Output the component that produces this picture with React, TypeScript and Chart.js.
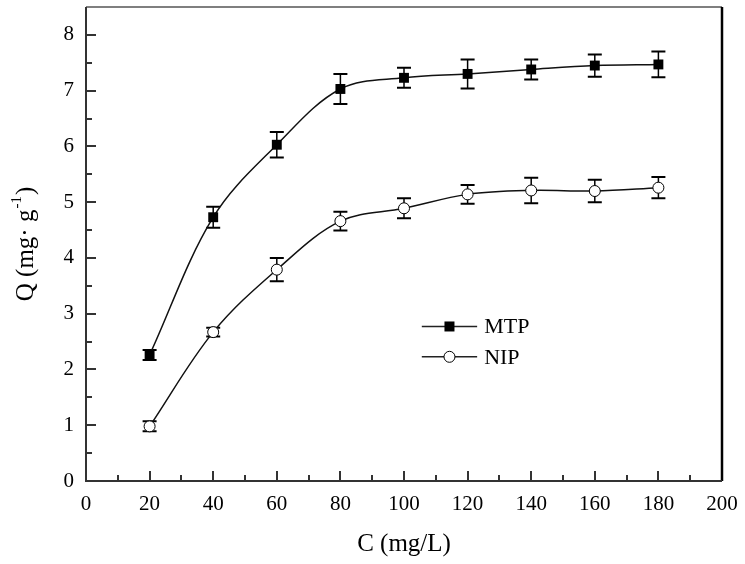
import React, { useEffect, useRef } from "react";
import { Chart, registerables } from "chart.js";

Chart.register(...registerables);

const concentrations = [20, 40, 60, 80, 100, 120, 140, 160, 180];
const mtpValues = [2.26, 4.73, 6.03, 7.03, 7.23, 7.3, 7.38, 7.45, 7.47];
const mtpErrors = [0.09, 0.19, 0.23, 0.27, 0.18, 0.26, 0.18, 0.2, 0.23];
const nipValues = [0.98, 2.67, 3.79, 4.66, 4.89, 5.14, 5.21, 5.2, 5.26];
const nipErrors = [0.09, 0.08, 0.21, 0.17, 0.18, 0.17, 0.23, 0.2, 0.19];
const seriesNames = ["MTP", "NIP"];
const xTitle = "C (mg/L)";
const yTitleMain = "Q (mg\u00b7 g";
const yTitleSup = "-1";
const yTitleEnd = ")";

const FONT = "'Liberation Serif', 'Times New Roman', serif";

function drawMarker(ctx: CanvasRenderingContext2D, kind: string, x: number, y: number) {
  ctx.save();
  if (kind === "rect") {
    ctx.fillStyle = "#000";
    ctx.fillRect(x - 5, y - 5, 10, 10);
  } else {
    ctx.beginPath();
    ctx.arc(x, y, 5.5, 0, Math.PI * 2);
    ctx.fillStyle = "#fff";
    ctx.fill();
    ctx.lineWidth = 1;
    ctx.strokeStyle = "#000";
    ctx.stroke();
  }
  ctx.restore();
}

const errorBarPlugin = {
  id: "errorBars",
  beforeDatasetsDraw(chart: any) {
    const ctx = chart.ctx;
    const xs = chart.scales.x;
    const ys = chart.scales.y;
    const errs = [mtpErrors, nipErrors];
    const vals = [mtpValues, nipValues];
    ctx.save();
    ctx.strokeStyle = "#000";
    for (let d = 0; d < 2; d++) {
      for (let i = 0; i < concentrations.length; i++) {
        const px = xs.getPixelForValue(concentrations[i]);
        const top = ys.getPixelForValue(vals[d][i] + errs[d][i]);
        const bot = ys.getPixelForValue(vals[d][i] - errs[d][i]);
        ctx.lineWidth = 1.5;
        ctx.beginPath();
        ctx.moveTo(px, top);
        ctx.lineTo(px, bot);
        ctx.stroke();
        ctx.lineWidth = 2;
        ctx.beginPath();
        ctx.moveTo(px - 7, top);
        ctx.lineTo(px + 7, top);
        ctx.moveTo(px - 7, bot);
        ctx.lineTo(px + 7, bot);
        ctx.stroke();
      }
    }
    ctx.restore();
  },
};

const framePlugin = {
  id: "frame",
  afterDraw(chart: any) {
    const ctx = chart.ctx;
    const { left, right, top, bottom } = chart.chartArea;
    const xs = chart.scales.x;
    const ys = chart.scales.y;
    ctx.save();
    ctx.strokeStyle = "#555";
    ctx.lineWidth = 1.5;
    ctx.beginPath();
    ctx.moveTo(left, top);
    ctx.lineTo(right, top);
    ctx.stroke();
    ctx.strokeStyle = "#000";
    ctx.lineWidth = 2.5;
    ctx.beginPath();
    ctx.moveTo(right, top);
    ctx.lineTo(right, bottom);
    ctx.stroke();
    ctx.strokeStyle = "#333";
    ctx.lineWidth = 2;
    ctx.beginPath();
    ctx.moveTo(left, top);
    ctx.lineTo(left, bottom);
    ctx.lineTo(right, bottom);
    ctx.stroke();
    ctx.lineWidth = 2;
    ctx.beginPath();
    for (let v = 10; v < 200; v += 10) {
      const px = Math.round(xs.getPixelForValue(v));
      const len = v % 20 === 0 ? 10 : 6;
      ctx.moveTo(px, bottom);
      ctx.lineTo(px, bottom - len);
    }
    for (let v = 0.5; v <= 8; v += 0.5) {
      const py = Math.round(ys.getPixelForValue(v));
      const len = v % 1 === 0 ? 10 : 6;
      ctx.moveTo(left, py);
      ctx.lineTo(left + len, py);
    }
    ctx.stroke();

    const mid = (top + bottom) / 2;
    ctx.translate(25, mid);
    ctx.rotate(-Math.PI / 2);
    ctx.fillStyle = "#000";
    ctx.textBaseline = "alphabetic";
    ctx.font = `25px ${FONT}`;
    const w1 = ctx.measureText(yTitleMain).width;
    const w3 = ctx.measureText(yTitleEnd).width;
    ctx.font = `15px ${FONT}`;
    const w2 = ctx.measureText(yTitleSup).width;
    const total = w1 + w2 + w3 + 2;
    let x0 = -total / 2;
    const base = 8;
    ctx.font = `25px ${FONT}`;
    ctx.fillText(yTitleMain, x0, base);
    x0 += w1 + 1;
    ctx.font = `15px ${FONT}`;
    ctx.fillText(yTitleSup, x0, base - 12);
    x0 += w2 + 1;
    ctx.font = `25px ${FONT}`;
    ctx.fillText(yTitleEnd, x0, base);
    ctx.restore();

    const w = right - left;
    const h = bottom - top;
    const lx1 = left + 0.528 * w;
    const lx2 = left + 0.615 * w;
    const kinds = ["rect", "circle"];
    const rows = [0.674, 0.738];
    ctx.save();
    for (let i = 0; i < 2; i++) {
      const ly = top + rows[i] * h;
      ctx.strokeStyle = "#222";
      ctx.lineWidth = 1.5;
      ctx.beginPath();
      ctx.moveTo(lx1, ly);
      ctx.lineTo(lx2, ly);
      ctx.stroke();
      drawMarker(ctx, kinds[i], (lx1 + lx2) / 2, ly);
      ctx.fillStyle = "#000";
      ctx.font = `22px ${FONT}`;
      ctx.textBaseline = "middle";
      ctx.fillText(seriesNames[i], lx2 + 7, ly + 1);
    }
    ctx.restore();
  },
};

export default function App() {
  const ref = useRef<HTMLCanvasElement | null>(null);
  useEffect(() => {
    document.body.style.margin = "0";
    const canvas = ref.current;
    if (!canvas) return;
    const chart = new Chart(canvas, {
      type: "line",
      data: {
        datasets: [
          {
            label: seriesNames[0],
            data: concentrations.map((c, i) => ({ x: c, y: mtpValues[i] })),
            borderColor: "#111",
            borderWidth: 1.5,
            pointStyle: "rect",
            pointRadius: 7,
            pointBackgroundColor: "#000",
            pointBorderColor: "#000",
            pointBorderWidth: 0,
            tension: 0.35,
            fill: false,
          },
          {
            label: seriesNames[1],
            data: concentrations.map((c, i) => ({ x: c, y: nipValues[i] })),
            borderColor: "#111",
            borderWidth: 1.5,
            pointStyle: "circle",
            pointRadius: 5.5,
            pointBackgroundColor: "#fff",
            pointBorderColor: "#000",
            pointBorderWidth: 1,
            tension: 0.35,
            fill: false,
          },
        ],
      },
      options: {
        animation: false,
        responsive: false,
        devicePixelRatio: 1,
        layout: { padding: { top: 6, right: 23, left: 0, bottom: 0 } },
        plugins: {
          legend: { display: false },
          tooltip: { enabled: false },
        },
        scales: {
          x: {
            type: "linear",
            min: 0,
            max: 200,
            grid: { display: false, drawTicks: false },
            border: { display: false },
            ticks: {
              stepSize: 20,
              color: "#000",
              font: { family: FONT, size: 21 },
              padding: 11,
              maxRotation: 0,
            },
            title: {
              display: true,
              text: xTitle,
              color: "#000",
              font: { family: FONT, size: 25 },
              padding: { top: 0, bottom: 5 },
            },
            afterFit(scale: any) {
              scale.height = 83;
              scale.paddingLeft = 0;
              scale.paddingRight = 0;
            },
          },
          y: {
            type: "linear",
            min: 0,
            max: 8.5,
            grid: { display: false, drawTicks: false },
            border: { display: false },
            ticks: {
              stepSize: 1,
              includeBounds: false,
              color: "#000",
              font: { family: FONT, size: 21 },
              padding: 12,
            },
            afterFit(scale: any) {
              scale.width = 86;
              scale.paddingTop = 0;
              scale.paddingBottom = 0;
            },
          },
        },
      },
      plugins: [errorBarPlugin, framePlugin],
    } as any);
    return () => chart.destroy();
  }, []);
  return (
    <div style={{ width: 745, height: 564, background: "#fff" }}>
      <canvas ref={ref} width={745} height={564} style={{ display: "block" }} />
    </div>
  );
}
